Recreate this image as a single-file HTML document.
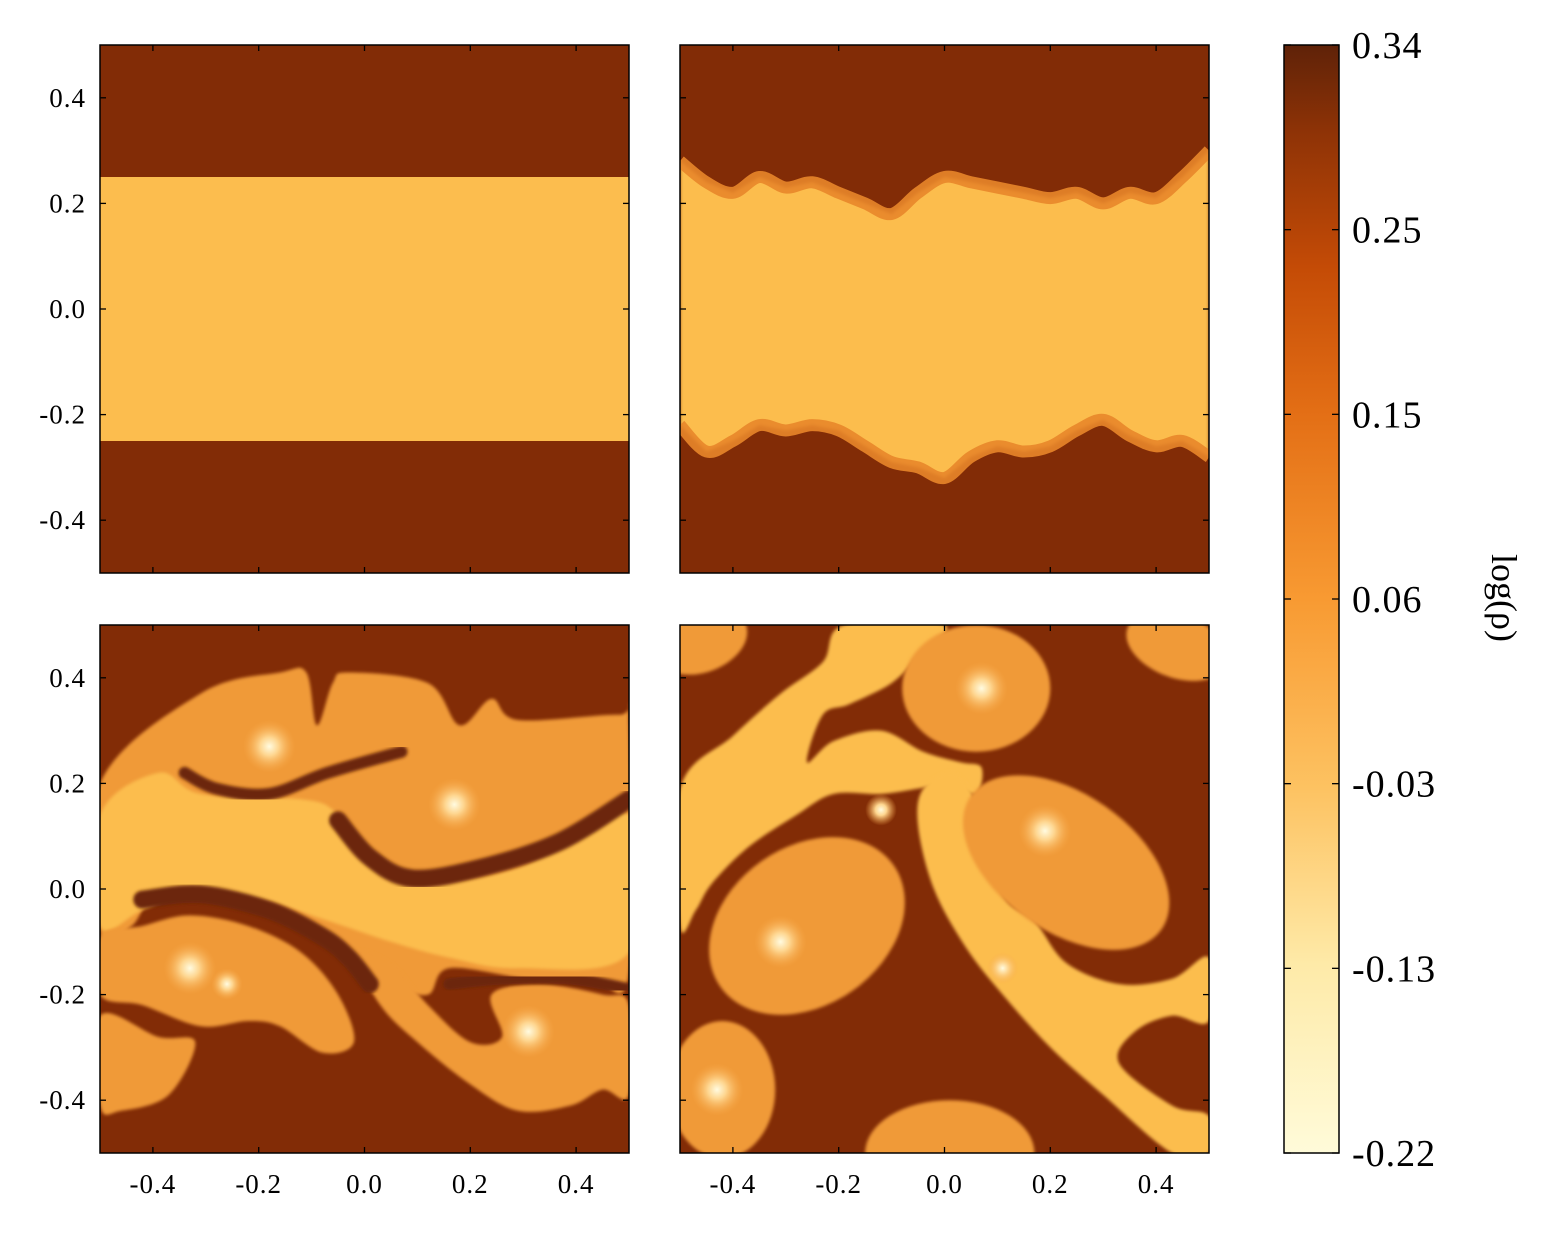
<!DOCTYPE html>
<html><head><meta charset="utf-8"><style>
html,body{margin:0;padding:0;background:#fff;}
svg text{font-family:"Liberation Serif","DejaVu Serif",serif;fill:#000;}
</style></head><body>
<svg id="fig" width="1554" height="1230" viewBox="0 0 1554 1230" xmlns="http://www.w3.org/2000/svg">
<defs>
<linearGradient id="cbar" x1="0" y1="1" x2="0" y2="0">
<stop offset="0" stop-color="#fffbd9"/>
<stop offset="0.17" stop-color="#feeaa8"/>
<stop offset="0.33" stop-color="#fdc261"/>
<stop offset="0.5" stop-color="#f89a32"/>
<stop offset="0.67" stop-color="#e36e15"/>
<stop offset="0.8" stop-color="#c44b06"/>
<stop offset="0.92" stop-color="#8f3306"/>
<stop offset="1" stop-color="#5f2208"/>
</linearGradient>
<radialGradient id="core"><stop offset="0" stop-color="#fffbe0"/><stop offset="0.35" stop-color="#fed690"/><stop offset="1" stop-color="#f7a848" stop-opacity="0"/></radialGradient>
<filter id="soft"><feGaussianBlur stdDeviation="1.5"/></filter>
<clipPath id="c1"><rect x="100" y="45" width="529" height="528"/></clipPath>
<clipPath id="c2"><rect x="680" y="45" width="529" height="528"/></clipPath>
<clipPath id="c3"><rect x="100" y="625" width="529" height="528"/></clipPath>
<clipPath id="c4"><rect x="680" y="625" width="529" height="528"/></clipPath>
</defs>
</svg>
<script>
// ---- data ----
const xTicks = [-0.4,-0.2,0.0,0.2,0.4];
const yTicks = [-0.4,-0.2,0.0,0.2,0.4];
const tickLabels = ["-0.4","-0.2","0.0","0.2","0.4"];
const cbarTicks = [0.34,0.25,0.15,0.06,-0.03,-0.13,-0.22];
const cbarLabels = ["0.34","0.25","0.15","0.06","-0.03","-0.13","-0.22"];
// panel 1 : initial shear layer
const band1 = [0.25,-0.25];
// panel 2 : interface heights
const p2x = [-0.5,-0.45,-0.4,-0.35,-0.3,-0.25,-0.2,-0.15,-0.1,-0.05,0,0.05,0.1,0.15,0.2,0.25,0.3,0.35,0.4,0.45,0.5];
const p2up = [0.28,0.24,0.22,0.25,0.23,0.24,0.22,0.2,0.18,0.22,0.25,0.24,0.23,0.22,0.21,0.22,0.2,0.22,0.21,0.25,0.3];
const p2lo = [-0.22,-0.27,-0.25,-0.22,-0.23,-0.22,-0.23,-0.26,-0.29,-0.3,-0.32,-0.28,-0.26,-0.27,-0.26,-0.23,-0.21,-0.24,-0.26,-0.25,-0.28];
// panel 3 shapes (data coords)
const p3orange = [[-0.5,0.2],[-0.31,0.37],[-0.16,0.41],[-0.11,0.41],[-0.09,0.31],[-0.06,0.39],[-0.03,0.41],[0.12,0.39],[0.18,0.31],[0.24,0.36],[0.29,0.32],[0.48,0.33],[0.5,0.31],[0.5,-0.16],[0.43,-0.17],[0.31,-0.17],[0.16,-0.15],[0.12,-0.2],[0.05,-0.18],[-0.05,-0.12],[-0.16,-0.05],[-0.29,-0.01],[-0.39,0.0],[-0.44,-0.07],[-0.5,-0.08]];
const p3light = [[-0.5,0.14],[-0.39,0.22],[-0.31,0.18],[-0.12,0.17],[-0.06,0.15],[-0.03,0.1],[0.05,0.03],[0.1,0.01],[0.29,0.04],[0.5,0.14],[0.5,-0.12],[0.29,-0.15],[0.16,-0.13],[0.05,-0.1],[-0.07,-0.06],[-0.2,-0.02],[-0.33,-0.01],[-0.42,-0.04],[-0.5,-0.07]];
const p3lowL = [[-0.5,-0.09],[-0.42,-0.07],[-0.33,-0.05],[-0.22,-0.07],[-0.12,-0.12],[-0.05,-0.2],[-0.02,-0.29],[-0.08,-0.31],[-0.16,-0.26],[-0.22,-0.25],[-0.31,-0.26],[-0.42,-0.22],[-0.5,-0.2]];
const p3blob = [[-0.5,-0.24],[-0.39,-0.28],[-0.32,-0.29],[-0.37,-0.39],[-0.46,-0.42],[-0.5,-0.41]];
const p3lowR = [[-0.02,-0.12],[0.05,-0.14],[0.12,-0.22],[0.2,-0.29],[0.26,-0.28],[0.24,-0.2],[0.33,-0.18],[0.45,-0.2],[0.5,-0.22],[0.5,-0.39],[0.45,-0.38],[0.39,-0.41],[0.29,-0.42],[0.2,-0.37],[0.1,-0.29],[0.03,-0.22]];
const p3arms = [
  [[-0.34,0.22],[-0.28,0.19],[-0.18,0.18],[-0.07,0.22],[0.07,0.26]],
  [[-0.05,0.13],[0.01,0.06],[0.09,0.02],[0.22,0.04],[0.37,0.09],[0.5,0.17]],
  [[-0.42,-0.02],[-0.31,-0.01],[-0.18,-0.04],[-0.08,-0.09],[-0.03,-0.13],[0.01,-0.18]],
  [[0.16,-0.18],[0.26,-0.17],[0.39,-0.17],[0.5,-0.19]]];
const p3armW = [12,18,18,12];
const p3cores = [[-0.18,0.27],[0.17,0.16],[-0.33,-0.15],[0.31,-0.27],[-0.26,-0.18]];
const p3coreR = [0.05,0.05,0.05,0.05,0.03];
// panel 4 shapes
const p4bandA = [[-0.5,0.19],[-0.4,0.29],[-0.31,0.37],[-0.23,0.43],[-0.19,0.5],[0.0,0.5],[-0.05,0.44],[-0.1,0.39],[-0.18,0.35],[-0.23,0.33],[-0.26,0.24],[-0.21,0.28],[-0.12,0.3],[-0.04,0.26],[0.03,0.24],[0.07,0.23],[0.06,0.18],[0.01,0.2],[-0.05,0.19],[-0.12,0.18],[-0.21,0.18],[-0.28,0.14],[-0.37,0.08],[-0.44,0.01],[-0.47,-0.04],[-0.5,-0.07]];
const p4bandB = [[0.02,0.22],[0.07,0.14],[0.11,-0.01],[0.17,-0.06],[0.23,-0.14],[0.33,-0.18],[0.43,-0.17],[0.5,-0.13],[0.5,-0.25],[0.43,-0.24],[0.36,-0.27],[0.33,-0.33],[0.43,-0.41],[0.5,-0.43],[0.5,-0.5],[0.43,-0.5],[0.3,-0.39],[0.2,-0.3],[0.11,-0.2],[0.04,-0.11],[-0.02,0.0],[-0.05,0.12],[-0.04,0.19]];
const p4vort = [[0.06,0.38,0.14,0.12,0],[0.23,0.05,0.22,0.13,35],[-0.26,-0.07,0.2,0.15,-35],[-0.42,-0.38,0.1,0.13,0],[0.01,-0.5,0.16,0.1,0],[-0.46,0.47,0.09,0.06,-20],[0.44,0.46,0.1,0.06,20]];
const p4cores = [[0.07,0.38],[0.19,0.11],[-0.31,-0.1],[-0.43,-0.38],[-0.12,0.15],[0.11,-0.15]];
const p4coreR = [0.05,0.05,0.05,0.05,0.03,0.03];

// ---- layout ----
const NS="http://www.w3.org/2000/svg";
const svg=document.getElementById('fig');
const panels=[{x:100,y:45},{x:680,y:45},{x:100,y:625},{x:680,y:625}];
const W=529,H=528;
const DARK="#822c06", LIGHT="#fcbd4e", ORANGE="#f09a38", DEEP="#6c2508";
function mk(tag,attrs,parent){const e=document.createElementNS(NS,tag);for(const k in attrs)e.setAttribute(k,attrs[k]);(parent||svg).appendChild(e);return e;}
function sx(p,v){return panels[p].x+(v+0.5)*W;}
function sy(p,v){return panels[p].y+(0.5-v)*H;}
function ptsStr(p,arr){return arr.map(d=>sx(p,d[0]).toFixed(1)+','+sy(p,d[1]).toFixed(1)).join(' ');}
function smoothPath(p,arr,closed){
  const P=arr.map(d=>[sx(p,d[0]),sy(p,d[1])]);const n=P.length;let s='M'+P[0][0]+','+P[0][1];
  const cnt=closed?n:n-1;
  for(let i=0;i<cnt;i++){const p0=P[(i-1+n)%n],p1=P[i],p2=P[(i+1)%n],p3=P[(i+2)%n];
    const a=(!closed&&i==0)?p1:p0, b=(!closed&&i+2>=n)?p2:p3;
    const c1=[p1[0]+(p2[0]-a[0])/6,p1[1]+(p2[1]-a[1])/6],c2=[p2[0]-(b[0]-p1[0])/6,p2[1]-(b[1]-p1[1])/6];
    s+=' C'+c1.join(',')+' '+c2.join(',')+' '+p2.join(',');}
  return s+(closed?' Z':'');
}
const groups=[];
for(let p=0;p<4;p++){
  const g=mk('g',{'clip-path':'url(#c'+(p+1)+')'});
  
  
  mk('rect',{x:panels[p].x,y:panels[p].y,width:W,height:H,fill:DARK},g);
  groups.push(g);
}
// panel 1
(function(){const g=groups[0];
  const r=mk('rect',{x:sx(0,-0.5),y:sy(0,band1[0]),width:W,height:sy(0,band1[1])-sy(0,band1[0]),fill:LIGHT},g);
  
  
})();
// panel 2
(function(){const g=groups[1];
  const up=p2x.map((x,i)=>[x,p2up[i]]), lo=p2x.map((x,i)=>[x,p2lo[i]]);
  const poly=up.concat(lo.slice().reverse());
  const e=mk('polygon',{points:ptsStr(1,poly),fill:LIGHT,filter:'url(#soft)'},g);
  
  
  const a=mk('path',{d:smoothPath(1,up,false),fill:'none',stroke:'#e8862a','stroke-width':12,opacity:0.9},g);
  
  
  const b=mk('path',{d:smoothPath(1,lo,false),fill:'none',stroke:'#e8862a','stroke-width':12,opacity:0.9},g);
  
  
})();
// panel 3
(function(){const g=groups[2];
  [[p3orange,ORANGE],[p3light,LIGHT],[p3lowL,ORANGE],[p3blob,ORANGE],[p3lowR,ORANGE]].forEach((s,i)=>{
    const e=mk('path',{d:smoothPath(2,s[0],true),fill:s[1],filter:'url(#soft)'},g);
    
    
  });
  p3arms.forEach((arm,i)=>{
    const e=mk('path',{d:smoothPath(2,arm,false),fill:'none',stroke:DEEP,'stroke-width':p3armW[i],'stroke-linecap':'round',filter:'url(#soft)'},g);
    
    
  });
  p3cores.forEach((c,i)=>{
    const e=mk('circle',{cx:sx(2,c[0]),cy:sy(2,c[1]),r:p3coreR[i]*W,fill:'url(#core)'},g);
    
    
  });
})();
// panel 4
(function(){const g=groups[3];
  [p4bandA,p4bandB].forEach(s=>{
    const e=mk('path',{d:smoothPath(3,s,true),fill:LIGHT,filter:'url(#soft)'},g);
    
    
  });
  p4vort.forEach(v=>{
    const cx=sx(3,v[0]),cy=sy(3,v[1]);
    const e=mk('ellipse',{cx:cx,cy:cy,rx:v[2]*W,ry:v[3]*H,fill:ORANGE,transform:'rotate('+v[4]+' '+cx+' '+cy+')',filter:'url(#soft)'},g);
    
    
  });
  p4cores.forEach((c,i)=>{
    const e=mk('circle',{cx:sx(3,c[0]),cy:sy(3,c[1]),r:p4coreR[i]*W,fill:'url(#core)'},g);
    
    
  });
})();
// frames, ticks, labels
for(let p=0;p<4;p++){
  const fr=mk('rect',{x:panels[p].x,y:panels[p].y,width:W,height:H,fill:'none',stroke:'#000','stroke-width':1.5});
  
  
  xTicks.forEach(t=>{const x=sx(p,t);
    mk('line',{x1:x,x2:x,y1:panels[p].y,y2:panels[p].y+6,stroke:'#000','stroke-width':1.3});
    mk('line',{x1:x,x2:x,y1:panels[p].y+H,y2:panels[p].y+H-6,stroke:'#000','stroke-width':1.3});});
  yTicks.forEach(t=>{const y=sy(p,t);
    mk('line',{x1:panels[p].x,x2:panels[p].x+6,y1:y,y2:y,stroke:'#000','stroke-width':1.3});
    mk('line',{x1:panels[p].x+W,x2:panels[p].x+W-6,y1:y,y2:y,stroke:'#000','stroke-width':1.3});});
  if(p>=2) xTicks.forEach((t,i)=>{const e=mk('text',{x:sx(p,t),y:panels[p].y+H+40,'font-size':27,'letter-spacing':1,'text-anchor':'middle'});e.textContent=tickLabels[i];
    
    });
  if(p%2==0) yTicks.forEach((t,i)=>{const e=mk('text',{x:panels[p].x-14,y:sy(p,t)+9,'font-size':27,'letter-spacing':1,'text-anchor':'end'});e.textContent=tickLabels[i];
    
    });
}
// colorbar (ticks evenly spaced along bar)
const cb={x:1284,y:45,w:55,h:1108};
function cy(i){return cb.y+i/(cbarTicks.length-1)*cb.h;}
const cbr=mk('rect',{x:cb.x,y:cb.y,width:cb.w,height:cb.h,fill:'url(#cbar)',stroke:'#000','stroke-width':1.5});


cbarTicks.forEach((t,i)=>{const y=cy(i);
  mk('line',{x1:cb.x+cb.w,x2:cb.x+cb.w-7,y1:y,y2:y,stroke:'#000','stroke-width':1.3});
  mk('line',{x1:cb.x,x2:cb.x+7,y1:y,y2:y,stroke:'#000','stroke-width':1.3});
  const e=mk('text',{x:cb.x+cb.w+13,y:y+13,'font-size':38,'letter-spacing':1});e.textContent=cbarLabels[i];
  
  });
const lab=mk('text',{x:1492,y:598,'font-size':36,'text-anchor':'middle',transform:'rotate(90 1492 598)'});
lab.textContent='log(ρ)';


</script>
</body></html>
